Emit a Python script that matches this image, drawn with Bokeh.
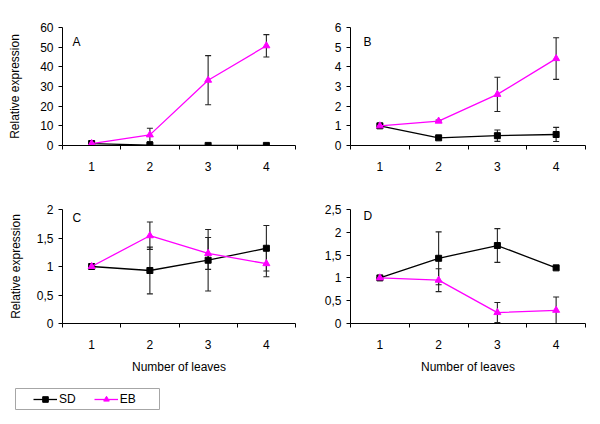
from bokeh.plotting import figure
from bokeh.models import (Range1d, FixedTicker, Whisker, TeeHead, ColumnDataSource,
                          Label, Legend, LegendItem, Spacer)
from bokeh.layouts import row, column
from bokeh.embed import file_html
from bokeh.resources import INLINE

FONT = "Liberation Sans"
FS = "12px"
MAGENTA = "#ff00ff"

LEAVES = [1, 2, 3, 4]
X_LABELS = ["1", "2", "3", "4"]
X_BOUNDS = [0.5, 1.5, 2.5, 3.5, 4.5]

A_SD = [1.0, 0.2, 0.05, 0.05]
A_SD_ERR = [0.0, 0.3, 0.0, 0.0]
A_EB = [1.0, 5.4, 33.2, 50.7]
A_EB_ERR = [0.0, 3.4, 12.5, 5.7]
A_TICKS = [0, 10, 20, 30, 40, 50, 60]
A_LABELS = ["0", "10", "20", "30", "40", "50", "60"]

B_SD = [1.0, 0.39, 0.5, 0.56]
B_SD_ERR = [0.08, 0.05, 0.29, 0.36]
B_EB = [1.0, 1.24, 2.6, 4.42]
B_EB_ERR = [0.05, 0.05, 0.87, 1.06]
B_TICKS = [0, 1, 2, 3, 4, 5, 6]
B_LABELS = ["0", "1", "2", "3", "4", "5", "6"]

C_SD = [1.0, 0.93, 1.11, 1.32]
C_SD_ERR = [0.0, 0.41, 0.54, 0.40]
C_EB = [1.0, 1.54, 1.23, 1.05]
C_EB_ERR = [0.0, 0.24, 0.28, 0.23]
C_TICKS = [0, 0.5, 1, 1.5, 2]
C_LABELS = ["0", "0,5", "1", "1,5", "2"]

D_SD = [1.0, 1.43, 1.71, 1.22]
D_SD_ERR = [0.0, 0.58, 0.37, 0.03]
D_EB = [1.0, 0.95, 0.24, 0.29]
D_EB_ERR = [0.0, 0.25, 0.22, 0.29]
D_TICKS = [0, 0.5, 1, 1.5, 2, 2.5]
D_LABELS = ["0", "0,5", "1", "1,5", "2", "2,5"]

SERIES = ["SD", "EB"]
Y_TITLE = "Relative expression"
X_TITLE = "Number of leaves"


def make_panel(sd, sd_err, eb, eb_err, yticks, ylabels, letter, width, height,
               left, top, bottom, ytitle, xtitle, ytitle_standoff, letter_xy):
    p = figure(width=width, height=height, x_range=Range1d(0.5, 4.5),
               y_range=Range1d(yticks[0], yticks[-1]), output_backend="svg",
               toolbar_location=None, min_border_left=left, min_border_right=5,
               min_border_top=top, min_border_bottom=bottom)
    p.outline_line_color = None
    p.grid.visible = False
    p.background_fill_color = "white"

    xa = p.xaxis[0]
    xa.ticker = FixedTicker(ticks=LEAVES, minor_ticks=X_BOUNDS)
    xa.major_label_overrides = {k: v for k, v in zip(LEAVES, X_LABELS)}
    xa.major_tick_out = 0
    xa.major_tick_in = 0
    xa.minor_tick_out = 4
    xa.minor_tick_in = 0
    xa.minor_tick_line_color = "black"
    xa.major_label_standoff = 12
    xa.major_label_text_font = FONT
    xa.major_label_text_font_size = FS
    xa.major_label_text_color = "black"
    xa.axis_line_color = "black"
    if xtitle:
        xa.axis_label = xtitle
        xa.axis_label_text_font = FONT
        xa.axis_label_text_font_size = FS
        xa.axis_label_text_font_style = "normal"
        xa.axis_label_text_color = "black"
        xa.axis_label_standoff = 8

    ya = p.yaxis[0]
    ya.ticker = FixedTicker(ticks=yticks)
    ya.major_label_overrides = {k: v for k, v in zip(yticks, ylabels)}
    ya.major_tick_out = 4
    ya.major_tick_in = 0
    ya.minor_tick_line_color = None
    ya.major_label_standoff = 5
    ya.major_label_text_font = FONT
    ya.major_label_text_font_size = FS
    ya.major_label_text_color = "black"
    ya.axis_line_color = "black"
    if ytitle:
        ya.axis_label = ytitle
        ya.axis_label_text_font = FONT
        ya.axis_label_text_font_size = FS
        ya.axis_label_text_font_style = "normal"
        ya.axis_label_text_color = "black"
        ya.axis_label_standoff = ytitle_standoff

    for vals, errs in ((sd, sd_err), (eb, eb_err)):
        src = ColumnDataSource(dict(x=LEAVES,
                                    upper=[v + e for v, e in zip(vals, errs)],
                                    lower=[v - e for v, e in zip(vals, errs)]))
        w = Whisker(base="x", upper="upper", lower="lower", source=src,
                    line_color="#222222", line_width=1.1, level="underlay",
                    upper_head=TeeHead(size=6, line_color="#222222", line_width=1.1),
                    lower_head=TeeHead(size=6, line_color="#222222", line_width=1.1))
        p.add_layout(w)

    p.line(LEAVES, sd, line_color="black", line_width=1.3)
    p.scatter(LEAVES, sd, marker="square", size=6, color="black")
    p.line(LEAVES, eb, line_color=MAGENTA, line_width=1.3)
    p.scatter(LEAVES, eb, marker="triangle", size=7, color=MAGENTA)

    p.add_layout(Label(x=letter_xy[0], y=letter_xy[1], x_units="screen", y_units="screen",
                       text=letter, text_font=FONT, text_font_size=FS,
                       text_color="black", text_baseline="top"))
    return p


pA = make_panel(A_SD, A_SD_ERR, A_EB, A_EB_ERR, A_TICKS, A_LABELS, "A",
                300, 185, 62, 27, 40, Y_TITLE, None, 15, (10, 111))
pB = make_panel(B_SD, B_SD_ERR, B_EB, B_EB_ERR, B_TICKS, B_LABELS, "B",
                290, 185, 50, 27, 40, None, None, 5, (13, 111))
pC = make_panel(C_SD, C_SD_ERR, C_EB, C_EB_ERR, C_TICKS, C_LABELS, "C",
                300, 191, 62, 24, 50, Y_TITLE, X_TITLE, 11, (10, 113))
pD = make_panel(D_SD, D_SD_ERR, D_EB, D_EB_ERR, D_TICKS, D_LABELS, "D",
                290, 191, 50, 23, 51, None, X_TITLE, 5, (13, 115))

# legend box (glyph renderers kept outside the visible range; only their legend swatches show)
lf = figure(width=145, height=22, x_range=Range1d(100, 101), y_range=Range1d(100, 101),
            output_backend="svg", toolbar_location=None, min_border=0,
            x_axis_location=None, y_axis_location=None)
lf.outline_line_color = "#a6a6a6"
lf.grid.visible = False
l1 = lf.line(LEAVES, A_SD, line_color="black", line_width=1.3)
s1 = lf.scatter(LEAVES, A_SD, marker="square", size=6, color="black")
l2 = lf.line(LEAVES, A_EB, line_color=MAGENTA, line_width=1.3)
s2 = lf.scatter(LEAVES, A_EB, marker="triangle", size=7, color=MAGENTA)
legend = Legend(items=[LegendItem(label=SERIES[0], renderers=[l1, s1]),
                       LegendItem(label=SERIES[1], renderers=[l2, s2])],
                orientation="horizontal", location=(18, 4), padding=0, margin=0,
                border_line_color=None, background_fill_alpha=0,
                glyph_width=24, glyph_height=14, label_standoff=2, spacing=18,
                label_width=10, label_height=14,
                label_text_font=FONT, label_text_font_size=FS, label_text_color="black")
lf.add_layout(legend)

layout = column(row(pA, pB), row(pC, pD), Spacer(height=12),
                row(Spacer(width=15), lf))

open("out.html", "w").write(file_html(layout, INLINE))
